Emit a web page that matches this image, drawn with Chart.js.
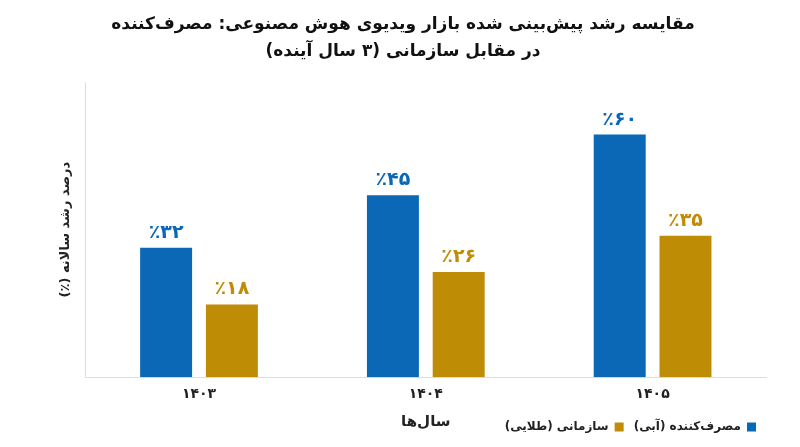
<!DOCTYPE html>
<html lang="fa" dir="rtl">
<head>
<meta charset="utf-8">
<script src="https://cdn.jsdelivr.net/npm/chart.js@4/dist/chart.umd.min.js"></script>
<style>
  html, body { margin: 0; padding: 0; background: #fff; }
  #wrap { width: 800px; height: 447px; }
</style>
</head>
<body>
<div id="wrap"><canvas id="myChart"></canvas></div>
<script>
const years = ['۱۴۰۳', '۱۴۰۴', '۱۴۰۵'];
const consumer = [32, 45, 60];
const enterprise = [18, 26, 35];
const seriesNames = ['مصرف‌کننده (آبی)', 'سازمانی (طلایی)'];

const FONT = "'DejaVu Sans', 'Noto Sans', sans-serif";
const BLUE = '#0a68b7';
const GOLD = '#bf8c06';

const faDigits = n => String(n).replace(/\d/g, d => '۰۱۲۳۴۵۶۷۸۹'[d]);

// value labels above each bar
const barLabels = {
    id: 'barLabels',
    afterDatasetsDraw(chart) {
        const ctx = chart.ctx;
        ctx.save();
        ctx.font = 'bold 19px ' + FONT;
        ctx.textAlign = 'center';
        ctx.textBaseline = 'middle';
        chart.data.datasets.forEach((ds, i) => {
            chart.getDatasetMeta(i).data.forEach((bar, j) => {
                ctx.fillStyle = ds.backgroundColor;
                ctx.fillText('٪' + faDigits(ds.data[j]), bar.x, bar.y - 15);
            });
        });
        ctx.restore();
    }
};

const ctx = document.getElementById('myChart');
const myChart = new Chart(ctx, {
    type: 'bar',
    data: {
        labels: years,
        datasets: [{
            label: seriesNames[0],
            data: consumer,
            backgroundColor: BLUE
        }, {
            label: seriesNames[1],
            data: enterprise,
            backgroundColor: GOLD
        }]
    },
    options: {
        responsive: true,
        maintainAspectRatio: false,
        animation: false,
        categoryPercentage: 0.58,
        barPercentage: 0.79,
        layout: {
            padding: { left: 40, right: 34, top: 0, bottom: 4 }
        },
        scales: {
            x: {
                grid: { display: false, drawTicks: false },
                border: { display: true, color: '#dedede', width: 1 },
                ticks: {
                    padding: 9,
                    color: '#222',
                    font: { family: FONT, size: 14, weight: 'bold' }
                },
                title: {
                    display: true,
                    text: 'سال‌ها',
                    color: '#222',
                    padding: { top: 1, bottom: -20 },
                    font: { family: FONT, size: 15, weight: 'bold' }
                }
            },
            y: {
                min: 0,
                max: 73,
                grid: { display: false, drawTicks: false },
                border: { display: true, color: '#dedede', width: 1 },
                ticks: { display: false },
                title: {
                    display: true,
                    text: 'درصد رشد سالانه (٪)',
                    color: '#222',
                    padding: { top: 18, bottom: 12 },
                    font: { family: FONT, size: 13, weight: 'bold' }
                }
            }
        },
        plugins: {
            title: {
                display: true,
                text: ['مقایسه رشد پیش‌بینی شده بازار ویدیوی هوش مصنوعی: مصرف‌کننده', 'در مقابل سازمانی (۳ سال آینده)'],
                color: '#111',
                padding: { top: 11.5, bottom: 16.5 },
                font: { family: FONT, size: 17, weight: 'bold', lineHeight: 1.59 }
            },
            legend: {
                position: 'bottom',
                align: 'start',
                rtl: true,
                labels: {
                    boxWidth: 9,
                    boxHeight: 9,
                    padding: 10,
                    color: '#222',
                    font: { family: FONT, size: 12, weight: 'bold' }
                }
            },
            tooltip: {
                rtl: true,
                displayColors: false
            }
        }
    },
    plugins: [barLabels]
});
</script>
</body>
</html>
